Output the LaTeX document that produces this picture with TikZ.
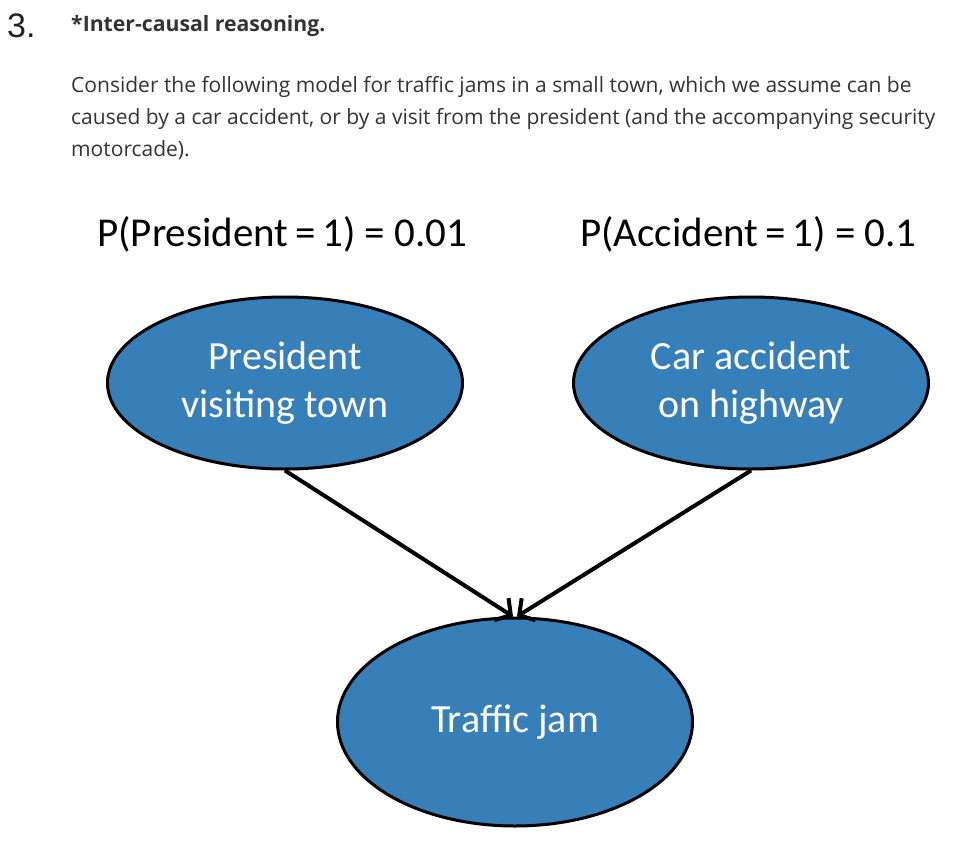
\documentclass[tikz,border=0pt]{standalone}
\usepackage{fontspec}
\setmainfont{Open Sans}
\newfontfamily\calfont{Carlito}
\newfontfamily\arialfont{Liberation Sans}
\usetikzlibrary{shapes.geometric,arrows.meta}
\definecolor{nodeblue}{RGB}{55,127,184}
\definecolor{bodytext}{RGB}{51,51,51}
\definecolor{numtext}{RGB}{34,34,34}
\tikzset{
  bnode/.style={ellipse, draw=black, line width=3pt, fill=nodeblue,
    minimum width=355pt, minimum height=172pt, inner sep=0pt,
    text=white, align=center, font=\calfont\fontsize{40}{48}\selectfont},
  bodyline/.style={anchor=base west, inner sep=0pt, text=bodytext,
    font=\fontsize{21}{32}\selectfont},
  prob/.style={anchor=base west, inner sep=0pt, text=black,
    font=\calfont\fontsize{41}{48}\selectfont},
  edge/.style={line width=4pt, -{Straight Barb[length=11pt,width=26pt,line width=4pt]}}
}
\begin{document}
\begin{tikzpicture}[x=1pt,y=-1pt]
\useasboundingbox (0,0) rectangle (967,841);
\node[anchor=base west, inner sep=0pt, text=numtext, font=\arialfont\fontsize{34}{40}\selectfont] (num) at (7,37) {3.};
\node[anchor=base west, inner sep=0pt, text=bodytext, font=\bfseries\fontsize{21.2}{24}\selectfont] (title) at (71,31) {*Inter-causal reasoning.};
\node[bodyline] (l1) at (71,92) {Consider the following model for traffic jams in a small town, which we assume can be};
\node[bodyline] (l2) at (71,124) {caused by a car accident, or by a visit from the president (and the accompanying security};
\node[bodyline] (l3) at (71,156) {motorcade).};
\node[prob] (pp) at (97,246) {P(President\,=\,1) = 0.01};
\node[prob] (pa) at (580,246) {P(Accident\,=\,1) = 0.1};
\node[bnode] (pres) at (285,383) {President\\visiting town};
\node[bnode] (acc) at (751,383) {Car accident\\on highway};
\node[bnode, minimum height=208pt] (jam) at (515,722) {Traffic jam};
\draw[edge] (pres.south) -- ([xshift=-2pt]jam.north);
\draw[edge] (acc.south) -- ([xshift=2pt]jam.north);
\end{tikzpicture}
\end{document}
